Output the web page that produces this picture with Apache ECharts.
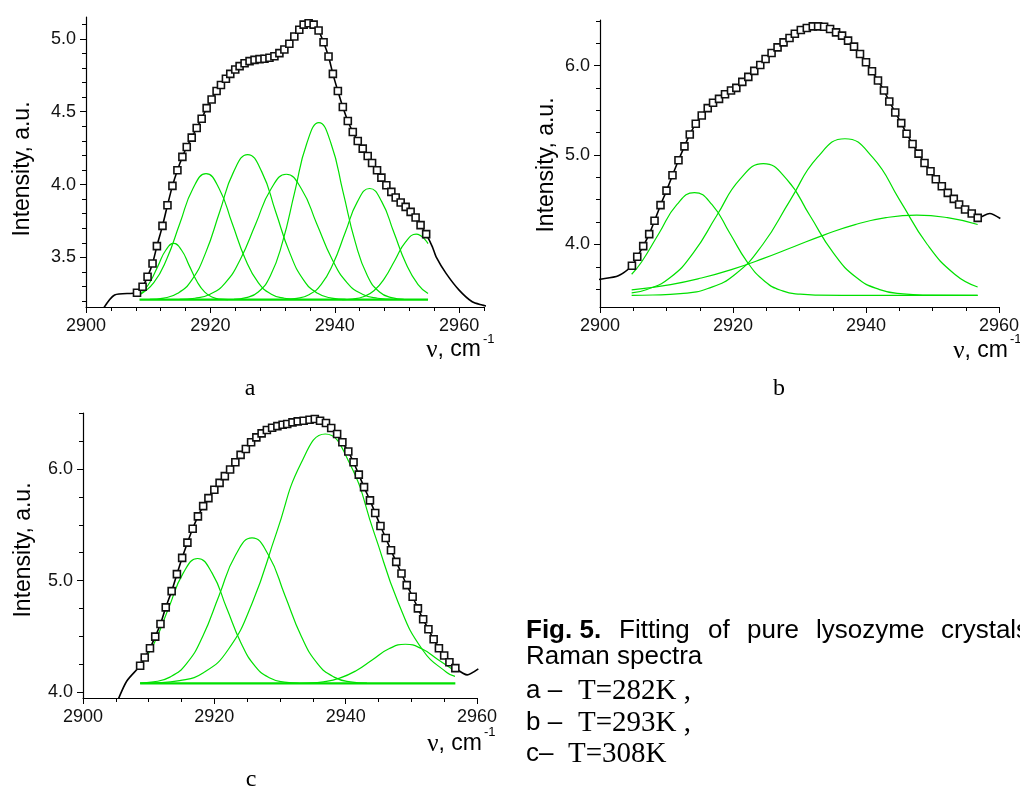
<!DOCTYPE html>
<html><head><meta charset="utf-8">
<script src="https://cdn.jsdelivr.net/npm/echarts@6/dist/echarts.min.js"></script>
<style>html,body{margin:0;padding:0;background:#fff}#main{width:1020px;height:789px}</style>
</head><body><div id="main"></div>
<script>
// ---------- Panel a (T=282 K) ----------
const aX = [2908.2,2909.1,2909.9,2910.7,2911.4,2912.3,2913.1,2913.9,2914.7,2915.5,
            2916.2,2917.0,2917.8,2918.6,2919.4,2920.2,2921.0,2921.7,2922.5,2923.2,
            2924.0,2924.7,2925.5,2926.3,2927.1,2927.9,2928.7,2929.5,2930.3,2931.1,
            2931.9,2932.7,2933.5,2934.3,2935.0,2935.8,2936.6,2937.4,2938.2,2939.0,
            2939.7,2940.5,2941.3,2942.1,2942.9,2943.7,2944.5,2945.3,2946.0,2946.8,
            2947.5,2948.3,2949.1,2949.8,2950.6,2951.4,2952.2,2953.0,2953.8,2954.7];
const aY = [3.258,3.299,3.368,3.459,3.578,3.717,3.858,3.991,4.098,4.19,
            4.258,4.322,4.388,4.452,4.525,4.584,4.642,4.683,4.726,4.76,
            4.79,4.813,4.833,4.847,4.856,4.861,4.863,4.87,4.881,4.902,
            4.927,4.966,5.016,5.062,5.098,5.107,5.098,5.057,4.977,4.879,
            4.76,4.642,4.532,4.436,4.361,4.299,4.247,4.196,4.148,4.098,
            4.048,3.995,3.95,3.911,3.877,3.847,3.813,3.774,3.722,3.66];
const aTailL = [[2902.5,3.13],[2904.6,3.242]];
const aTailR = [[2955.7,3.573],[2956.3,3.504],[2957.9,3.391],[2960.0,3.276],[2962.1,3.196],[2963.7,3.173],[2964.5,3.165]];
const aG1 = [[2908.6,3.244],[2909.1,3.262],[2910.35,3.335],[2911.6,3.444],[2912.85,3.551],[2914.1,3.596],[2915.35,3.551],[2916.6,3.444],[2917.85,3.335],[2919.1,3.262],[2920.35,3.227],[2921.6,3.214],[2922.85,3.211]];
const aG2 = [[2908.6,3.244],[2910.9,3.327],[2913.0,3.491],[2915.1,3.735],[2917.2,3.973],[2919.3,4.075],[2921.4,3.973],[2923.5,3.735],[2925.6,3.491],[2927.7,3.327],[2929.8,3.248],[2931.9,3.22],[2934.0,3.212]];
const aG3 = [[2910.25,3.212],[2912.5,3.221],[2914.75,3.254],[2917.0,3.345],[2919.25,3.533],[2921.5,3.814],[2923.75,4.089],[2926.0,4.206],[2928.25,4.089],[2930.5,3.814],[2932.75,3.533],[2935.0,3.345],[2937.25,3.254],[2939.5,3.221],[2941.75,3.212]];
const aG4 = [[2915.05,3.212],[2917.5,3.22],[2919.95,3.248],[2922.4,3.326],[2924.85,3.49],[2927.3,3.732],[2929.75,3.97],[2932.2,4.071],[2934.65,3.97],[2937.1,3.732],[2939.55,3.49],[2942.0,3.326],[2944.45,3.248],[2946.9,3.22],[2949.35,3.212]];
const aG5 = [[2923.8,3.213],[2925.75,3.224],[2927.7,3.263],[2929.65,3.374],[2931.6,3.605],[2933.55,3.947],[2935.5,4.282],[2937.45,4.425],[2939.4,4.282],[2941.35,3.947],[2943.3,3.605],[2945.25,3.374],[2947.2,3.263],[2949.15,3.224],[2951.1,3.213]];
const aG6 = [[2931.95,3.212],[2933.9,3.219],[2935.85,3.244],[2937.8,3.313],[2939.75,3.458],[2941.7,3.673],[2943.65,3.883],[2945.6,3.973],[2947.55,3.883],[2949.5,3.673],[2951.45,3.458],[2953.4,3.313],[2955.0,3.252]];
const aG7 = [[2941.2,3.211],[2942.9,3.215],[2944.6,3.23],[2946.3,3.271],[2948.0,3.356],[2949.7,3.483],[2951.4,3.607],[2953.1,3.66],[2955.0,3.595]];
const aBase = [[2908.6,3.21],[2955.0,3.21]];
const aXLabels = [2900, 2920, 2940, 2960];
const aXMinor = [2904,2908,2912,2916,2924,2928,2932,2936,2944,2948,2952,2956,2964];
const aYLabels = [3.5, 4.0, 4.5, 5.0];
const aYMinor = [3.2,3.3,3.4,3.6,3.7,3.8,3.9,4.1,4.2,4.3,4.4,4.6,4.7,4.8,4.9,5.1];

// ---------- Panel b (T=293 K) ----------
const bX = [2904.8,2905.6,2906.5,2907.4,2908.2,2909.1,2910.0,2910.9,2911.8,2912.7,
            2913.5,2914.4,2915.3,2916.2,2917.0,2917.9,2918.8,2919.7,2920.5,2921.4,
            2922.3,2923.2,2924.1,2924.9,2925.8,2926.7,2927.6,2928.5,2929.3,2930.2,
            2931.1,2932.0,2932.8,2933.7,2934.6,2935.5,2936.4,2937.3,2938.2,2939.1,
            2940.0,2940.9,2941.8,2942.7,2943.5,2944.4,2945.3,2946.1,2947.0,2947.9,
            2948.8,2949.7,2950.5,2951.4,2952.3,2953.2,2954.0,2954.9,2955.9,2956.8];
const bY = [3.762,3.862,3.981,4.115,4.264,4.439,4.602,4.773,4.941,5.097,
            5.23,5.349,5.442,5.524,5.584,5.628,5.68,5.721,5.751,5.818,
            5.874,5.941,6.007,6.074,6.141,6.204,6.26,6.309,6.357,6.398,
            6.42,6.439,6.439,6.435,6.409,6.372,6.335,6.279,6.212,6.13,
            6.037,5.937,5.833,5.721,5.599,5.476,5.357,5.238,5.123,5.015,
            4.911,4.818,4.729,4.651,4.576,4.509,4.446,4.39,4.346,4.297];
const bTailL = [[2899.5,3.605],[2900.0,3.61],[2902.75,3.65]];
const bTailR = [[2958.6,4.346],[2960.2,4.29]];
const bG1 = [[2904.76,3.666],[2906.25,3.803],[2908.9,4.128],[2911.55,4.445],[2914.2,4.58],[2916.85,4.445],[2919.5,4.128],[2922.15,3.803],[2924.8,3.586],[2927.45,3.48],[2930.1,3.443],[2932.75,3.433],[2940.0,3.43],[2956.79,3.43]];
const bG2 = [[2904.76,3.457],[2907.06,3.495],[2910.56,3.629],[2914.06,3.908],[2917.56,4.323],[2921.06,4.73],[2924.56,4.903],[2928.06,4.73],[2931.56,4.323],[2935.06,3.908],[2938.56,3.629],[2942.06,3.495],[2945.56,3.446],[2949.06,3.433],[2956.79,3.43]];
const bG3 = [[2904.76,3.431],[2907.96,3.434],[2912.09,3.449],[2916.22,3.507],[2920.34,3.667],[2924.47,3.999],[2928.59,4.493],[2932.72,4.976],[2936.84,5.182],[2940.97,4.976],[2945.09,4.493],[2949.22,3.999],[2953.34,3.667],[2956.79,3.524]];
const bG4 = [[2904.76,3.491],[2910.62,3.551],[2915.25,3.624],[2919.87,3.721],[2924.5,3.841],[2929.12,3.974],[2933.75,4.107],[2938.37,4.222],[2943.0,4.299],[2947.62,4.327],[2952.25,4.299],[2956.79,4.223]];
const bXLabels = [2900, 2920, 2940, 2960];
const bXMinor = [2905,2910,2915,2925,2930,2935,2945,2950,2955];
const bYLabels = [4.0, 5.0, 6.0];
const bYMinor = [3.5,3.75,4.25,4.5,4.75,5.25,5.5,5.75,6.25,6.5];

// ---------- Panel c (T=308 K) ----------
const cX = [2908.7,2909.4,2910.2,2911.0,2911.8,2912.6,2913.5,2914.3,2915.1,2915.9,
            2916.7,2917.5,2918.3,2919.1,2920.0,2920.8,2921.6,2922.4,2923.2,2924.0,
            2924.8,2925.6,2926.4,2927.2,2928.0,2928.8,2929.6,2930.4,2931.1,2931.9,
            2932.7,2933.6,2934.5,2935.3,2936.1,2937.0,2937.8,2938.7,2939.5,2940.4,
            2941.2,2942.0,2942.8,2943.7,2944.5,2945.3,2946.1,2946.9,2947.7,2948.5,
            2949.3,2950.2,2951.0,2951.8,2952.6,2953.4,2954.2,2955.0,2955.8,2956.7];
const cY = [4.238,4.312,4.395,4.499,4.612,4.761,4.906,5.058,5.204,5.34,
            5.465,5.575,5.667,5.738,5.813,5.875,5.935,5.994,6.059,6.125,
            6.178,6.238,6.282,6.318,6.348,6.368,6.383,6.395,6.401,6.416,
            6.425,6.431,6.44,6.446,6.431,6.41,6.366,6.312,6.238,6.155,
            6.059,5.949,5.837,5.718,5.605,5.489,5.382,5.272,5.168,5.064,
            4.96,4.856,4.752,4.654,4.565,4.475,4.395,4.33,4.27,4.217];
const cTailL = [[2905.1,3.9],[2906.65,4.1]];
const cTailR = [[2958.5,4.157],[2960.2,4.21]];
const cG1 = [[2908.68,4.233],[2910.86,4.443],[2913.06,4.758],[2915.26,5.067],[2917.46,5.198],[2919.66,5.067],[2921.86,4.758],[2924.06,4.443],[2926.26,4.231],[2928.46,4.129],[2930.66,4.092],[2932.86,4.082]];
const cG2 = [[2908.68,4.084],[2910.74,4.094],[2913.24,4.137],[2915.74,4.256],[2918.24,4.503],[2920.74,4.87],[2923.24,5.229],[2925.74,5.382],[2928.24,5.229],[2930.74,4.87],[2933.24,4.503],[2935.74,4.256],[2938.24,4.137],[2940.74,4.094],[2943.24,4.083]];
const cG3 = [[2908.68,4.082],[2911.0,4.085],[2914.7,4.105],[2918.4,4.178],[2922.1,4.382],[2925.8,4.805],[2929.5,5.434],[2933.2,6.05],[2936.9,6.312],[2940.6,6.05],[2944.3,5.434],[2948.0,4.805],[2951.7,4.382],[2955.4,4.178],[2956.65,4.143]];
const cG4 = [[2931.59,4.081],[2934.09,4.084],[2936.59,4.095],[2939.09,4.128],[2941.59,4.194],[2944.09,4.293],[2946.59,4.39],[2949.09,4.431],[2951.59,4.39],[2954.09,4.293],[2956.65,4.192]];
const cBase = [[2908.7,4.08],[2956.7,4.08]];
const cXLabels = [2900, 2920, 2940, 2960];
const cXMinor = [2905,2910,2915,2925,2930,2935,2945,2950,2955];
const cYLabels = [4.0, 5.0, 6.0];
const cYMinor = [4.25,4.5,4.75,5.25,5.5,5.75,6.25,6.5];

// ---------- build ----------
const FONT = 'Liberation Sans';
const SERIF = 'Liberation Serif';
const GREEN = '#00e000';
const zip = (xs, ys) => xs.map((x, i) => [x, ys[i]]);

const panels = [
  {grid:{left:86, top:17, width:398, height:290}, xr:[2900,2964], yr:[3.16,5.15],
   xl:aXLabels, xm:aXMinor, yl:aYLabels, ym:aYMinor, x:aX, y:aY, tl:aTailL, tr:aTailR,
   greens:[aG1,aG2,aG3,aG4,aG5,aG6,aG7], base:aBase},
  {grid:{left:600, top:20, width:399, height:287}, xr:[2900,2960], yr:[3.30,6.51],
   xl:bXLabels, xm:bXMinor, yl:bYLabels, ym:bYMinor, x:bX, y:bY, tl:bTailL, tr:bTailR,
   greens:[bG1,bG2,bG3,bG4], base:null},
  {grid:{left:83, top:413, width:394, height:285}, xr:[2900,2960], yr:[3.95,6.5],
   xl:cXLabels, xm:cXMinor, yl:cYLabels, ym:cYMinor, x:cX, y:cY, tl:cTailL, tr:cTailR,
   greens:[cG1,cG2,cG3,cG4], base:cBase}
];

const grids = [], xAxes = [], yAxes = [], series = [];
panels.forEach((p, i) => {
  grids.push(Object.assign({containLabel:false, outerBoundsMode:'none'}, p.grid));
  const axLine = {show:true, onZero:false, lineStyle:{color:'#000', width:1.2}};
  const tickStyle = {color:'#000', width:1};
  xAxes.push({type:'value', gridIndex:i, position:'bottom', min:p.xr[0], max:p.xr[1],
    axisLine:axLine, splitLine:{show:false},
    axisTick:{show:true, inside:false, length:6, customValues:p.xl, lineStyle:tickStyle},
    axisLabel:{customValues:p.xl, margin:10, fontSize:18, fontFamily:FONT, color:'#111',
      formatter:(v)=>String(Math.round(v))}});
  xAxes.push({type:'value', gridIndex:i, position:'bottom', min:p.xr[0], max:p.xr[1],
    axisLine:{show:false, onZero:false}, splitLine:{show:false},
    axisTick:{show:true, inside:false, length:4, customValues:p.xm, lineStyle:tickStyle},
    axisLabel:{show:false}});
  yAxes.push({type:'value', gridIndex:i, position:'left', min:p.yr[0], max:p.yr[1],
    axisLine:axLine, splitLine:{show:false},
    axisTick:{show:true, inside:false, length:6, customValues:p.yl, lineStyle:tickStyle},
    axisLabel:{customValues:p.yl, margin:10, fontSize:18, fontFamily:FONT, color:'#111',
      formatter:(v)=>v.toFixed(1)}});
  yAxes.push({type:'value', gridIndex:i, position:'left', min:p.yr[0], max:p.yr[1],
    axisLine:{show:false, onZero:false}, splitLine:{show:false},
    axisTick:{show:true, inside:false, length:4, customValues:p.ym, lineStyle:tickStyle},
    axisLabel:{show:false}});
  const xi = 2*i, yi = 2*i;
  p.greens.forEach(g => series.push({type:'line', xAxisIndex:xi, yAxisIndex:yi, data:g,
    smooth:0.5, showSymbol:false, silent:true, z:2,
    lineStyle:{color:GREEN, width:1.2}}));
  if (p.base) series.push({type:'line', xAxisIndex:xi, yAxisIndex:yi, data:p.base,
    showSymbol:false, silent:true, z:2, lineStyle:{color:GREEN, width:2.2}});
  const pts = zip(p.x, p.y);
  series.push({type:'line', xAxisIndex:xi, yAxisIndex:yi, data:p.tl.concat(pts, p.tr),
    smooth:0.25, showSymbol:false, silent:true, z:3, clip:true,
    lineStyle:{color:'#000', width:1.6}});
  series.push({type:'scatter', xAxisIndex:xi, yAxisIndex:yi, data:pts, symbol:'rect',
    symbolSize:7, silent:true, z:4,
    itemStyle:{color:'#ffffff', opacity:1, borderColor:'#111', borderWidth:1.6}});
});

const txt = (x, y, text, font, align) => ({type:'text', x, y, silent:true, z:10,
  style:{text, font, fill:'#000', textAlign:align || 'left', textVerticalAlign:'middle'}});
const vtxt = (x, y) => ({type:'text', x, y, rotation:Math.PI/2, silent:true,
  style:{text:'Intensity, a.u.', font:'23px "Liberation Sans"', fill:'#000',
    textAlign:'center', textVerticalAlign:'middle'}});
const nuLabel = (xr, y) => ({type:'text', x:xr, y, silent:true,
  style:{text:'{n|\u03bd}{t|, cm}', fill:'#000', textAlign:'right', textVerticalAlign:'middle',
    rich:{n:{fontFamily:SERIF, fontSize:25, fill:'#000'}, t:{fontFamily:FONT, fontSize:23, fill:'#000'}}}});
const sup = (x, y) => txt(x, y, '-1', '13px "Liberation Sans"');

const CAP = '26px "Liberation Sans"';
const TIMES = '29px "Liberation Serif"';
const graphics = [
  vtxt(23, 169), vtxt(547, 165), vtxt(24, 550),
  nuLabel(481, 350), sup(483, 339),
  nuLabel(1008, 351), sup(1010, 339),
  nuLabel(482, 744), sup(484, 732),
  txt(250, 389, 'a', '24px "Liberation Serif"', 'center'),
  txt(779, 389, 'b', '24px "Liberation Serif"', 'center'),
  txt(251, 780, 'c', '24px "Liberation Serif"', 'center'),
  txt(526, 631, 'Fig. 5.', 'bold 26px "Liberation Sans"'),
  txt(619, 631, 'Fitting', CAP),
  txt(708, 631, 'of', CAP),
  txt(747, 631, 'pure', CAP),
  txt(816, 631, 'lysozyme', CAP),
  txt(941, 631, 'crystals', CAP),
  txt(526, 657, 'Raman spectra', CAP),
  txt(526, 691, 'a \u2013', CAP),
  txt(578, 691, 'T=282K ,', TIMES),
  txt(526, 723, 'b \u2013', CAP),
  txt(578, 723, 'T=293K ,', TIMES),
  txt(526, 754, 'c\u2013', CAP),
  txt(568, 754, 'T=308K', TIMES)
];

const chart = echarts.init(document.getElementById('main'), null, {renderer:'canvas'});
chart.setOption({
  animation:false, backgroundColor:'#fff',
  textStyle:{fontFamily:FONT},
  grid:grids, xAxis:xAxes, yAxis:yAxes, series:series, graphic:graphics
});
</script></body></html>
